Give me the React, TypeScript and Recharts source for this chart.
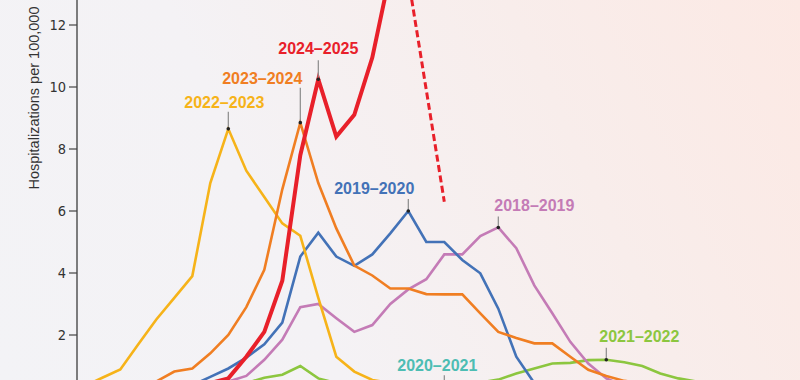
import { LineChart, Line, XAxis, YAxis, ReferenceDot } from "recharts";

// week index from start of season (weekly points)
const WEEKS = [
  0, 1, 2, 3, 4, 5, 6, 7, 8, 9, 10, 11, 12, 13, 14, 15, 16, 17,
  18, 19, 20, 21, 22, 23, 24, 25, 26, 27, 28, 29, 30, 31, 32, 33, 34, 35,
];

const S2018 = [0.1, 0.1, 0.1, 0.15, 0.15, 0.2, 0.3, 0.4, 0.5, 0.68, 1.2, 1.85, 2.9, 3.0, 2.54, 2.1, 2.32, 3.0, 3.47, 3.8, 4.6, 4.6, 5.19, 5.47, 4.8, 3.6, 2.7, 1.78, 1.08, 0.6, 0.35, 0.25, 0.2, 0.15, 0.15, 0.1];
const S2019 = [0.1, 0.1, 0.15, 0.15, 0.2, 0.3, 0.38, 0.65, 0.92, 1.27, 1.7, 2.4, 4.53, 5.3, 4.53, 4.23, 4.6, 5.28, 6.0, 5.0, 5.0, 4.42, 3.99, 2.85, 1.3, 0.45, 0.3, 0.2, 0.15, 0.15, 0.1, 0.1, 0.1, 0.1, 0.1, 0.1];
const S2020 = [0.02, 0.02, 0.03, 0.03, 0.03, 0.04, 0.04, 0.05, 0.05, 0.05, 0.06, 0.06, 0.07, 0.07, 0.08, 0.08, 0.09, 0.1, 0.1, 0.11, 0.12, 0.11, 0.1, 0.1, 0.09, 0.09, 0.08, 0.08, 0.08, 0.07, 0.07, 0.06, 0.06, 0.05, 0.05, 0.05];
const S2021 = [0.05, 0.05, 0.05, 0.1, 0.1, 0.1, 0.15, 0.2, 0.3, 0.45, 0.62, 0.72, 1.0, 0.6, 0.45, 0.4, 0.35, 0.3, 0.3, 0.3, 0.35, 0.4, 0.47, 0.56, 0.76, 0.92, 1.08, 1.1, 1.19, 1.2, 1.12, 1.0, 0.76, 0.6, 0.5, 0.45];
const S2022 = [0.35, 0.62, 0.89, 1.7, 2.5, 3.2, 3.9, 6.9, 8.65, 7.3, 6.45, 5.6, 5.2, 3.2, 1.3, 0.82, 0.55, 0.45, 0.4, 0.35, 0.3, 0.3, 0.25, 0.25, 0.2, 0.2, 0.2, 0.2, 0.15, 0.15, 0.15, 0.15, 0.1, 0.1, 0.1, 0.1];
const S2023 = [0.2, 0.25, 0.3, 0.4, 0.5, 0.82, 0.92, 1.41, 2.0, 2.9, 4.1, 6.7, 8.85, 6.9, 5.44, 4.24, 3.92, 3.5, 3.5, 3.32, 3.31, 3.31, 2.7, 2.1, 1.9, 1.73, 1.73, 1.3, 0.88, 0.68, 0.52, 0.45, 0.4, 0.35, 0.3, 0.3];
const S2024 = [0.2, 0.2, 0.25, 0.3, 0.3, 0.35, 0.4, 0.45, 0.6, 1.3, 2.1, 3.75, 7.8, 10.25, 8.4, 9.1, 10.95, 13.7, 13.5, null, null, null, null, null, null, null, null, null, null, null, null, null, null, null, null, null];
// preliminary drop, drawn dashed
const S2024_PRELIM = [null, null, null, null, null, null, null, null, null, null, null, null, null, null, null, null, null, null, 13.5, null, 6.3, null, null, null, null, null, null, null, null, null, null, null, null, null, null, null];

const Y_TICKS = [2, 4, 6, 8, 10, 12];

const data = WEEKS.map((w, i) => ({
  week: w,
  s2018: S2018[i],
  s2019: S2019[i],
  s2020: S2020[i],
  s2021: S2021[i],
  s2022: S2022[i],
  s2023: S2023[i],
  s2024: S2024[i],
  s2024p: S2024_PRELIM[i],
}));

const SERIES = [
  { key: "s2020", name: "2020–2021", color: "#4dbdb3", vals: S2020, peak: 20, dx: -7, anchor: "middle", lead: 18, gap: 22 },
  { key: "s2021", name: "2021–2022", color: "#8cc63f", vals: S2021, peak: 29, dx: -7, anchor: "start", lead: 12, gap: 18 },
  { key: "s2018", name: "2018–2019", color: "#c47bb6", vals: S2018, peak: 23, dx: -4, anchor: "start", lead: 11, gap: 16 },
  { key: "s2019", name: "2019–2020", color: "#4372b7", vals: S2019, peak: 18, dx: 6, anchor: "end", lead: 12, gap: 17 },
  { key: "s2022", name: "2022–2023", color: "#f6b319", vals: S2022, peak: 8, dx: -4, anchor: "middle", lead: 17, gap: 21 },
  { key: "s2023", name: "2023–2024", color: "#f07e22", vals: S2023, peak: 12, dx: 2, anchor: "end", lead: 35, gap: 39 },
  { key: "s2024", name: "2024–2025", color: "#e8202a", vals: S2024, peak: 13, dx: 0, anchor: "middle", lead: 19, gap: 25 },
];

const X0 = 84.3; // page x of first week
const STEP = 18; // px per week
const PX_PER_UNIT = 31;
const ZERO_Y = 397; // page y of value 0
const Y_MAX = 14;
const TOP = ZERO_Y - Y_MAX * PX_PER_UNIT; // page y of plot top (negative)
const PLOT_H = Y_MAX * PX_PER_UNIT;

const labelFont = "'Liberation Sans', Arial, Helvetica, sans-serif";

const PeakMark = (p: any) => {
  const { cx, cy, s } = p;
  if (cx == null || cy == null) return null;
  return (
    <g>
      <line x1={cx} x2={cx} y1={cy - 1} y2={cy - s.lead} stroke="#8a8a8a" strokeWidth={1.2} />
      <circle cx={cx} cy={cy} r={1.8} fill="#222" />
      <text
        x={cx + s.dx}
        y={cy - s.gap}
        textAnchor={s.anchor}
        fill={s.color}
        fontSize={16}
        fontWeight={700}
        fontFamily={labelFont}
      >
        {s.name}
      </text>
    </g>
  );
};

const YLabel = () => (
  <text
    x={38.7}
    y={98 - TOP}
    transform={`rotate(-90, 38.7, ${98 - TOP})`}
    textAnchor="middle"
    fill="#333"
    fontSize={14.5}
    fontFamily={labelFont}
  >
    Hospitalizations per 100,000
  </text>
);

export default function App() {
  return (
    <div
      style={{
        position: "fixed",
        left: 0,
        top: 0,
        width: 800,
        height: 380,
        overflow: "hidden",
        background:
          "linear-gradient(65deg, #f3f3f6 0%, #f4f2f5 35%, #f8edeb 70%, #fce9e4 100%)",
      }}
    >
      <div style={{ position: "absolute", left: 0, top: TOP }}>
        <LineChart
          width={800}
          height={PLOT_H + 20}
          data={data}
          margin={{ top: 0, right: 0, bottom: 20, left: 0 }}
        >
          <XAxis
            dataKey="week"
            type="number"
            domain={[(77 - X0) / STEP, (800 - X0) / STEP]}
            hide
          />
          <YAxis
            width={77}
            domain={[0, Y_MAX]}
            ticks={Y_TICKS}
            tickSize={8}
            tickMargin={3}
            axisLine={{ stroke: "#555", strokeWidth: 1.5 }}
            tickLine={{ stroke: "#444", strokeWidth: 1.2 }}
            tick={{
              fill: "#333",
              fontSize: 14.5,
              fontFamily: "'Liberation Sans Narrow', 'DejaVu Sans Condensed', sans-serif",
            }}
            label={<YLabel />}
          />
          {SERIES.map((s) => (
            <Line
              key={s.key}
              dataKey={s.key}
              type="linear"
              stroke={s.color}
              strokeWidth={s.key === "s2024" ? 4 : 2.6}
              strokeLinejoin="miter"
              dot={false}
              isAnimationActive={false}
            />
          ))}
          <Line
            dataKey="s2024p"
            type="linear"
            stroke="#e8202a"
            strokeWidth={3}
            strokeDasharray="7 3.5"
            connectNulls
            dot={false}
            isAnimationActive={false}
          />
          {SERIES.map((s) => (
            <ReferenceDot
              key={"pk" + s.key}
              x={WEEKS[s.peak]}
              y={s.vals[s.peak] as number}
              r={0}
              shape={(p: any) => <PeakMark {...p} s={s} />}
            />
          ))}
        </LineChart>
      </div>
    </div>
  );
}
